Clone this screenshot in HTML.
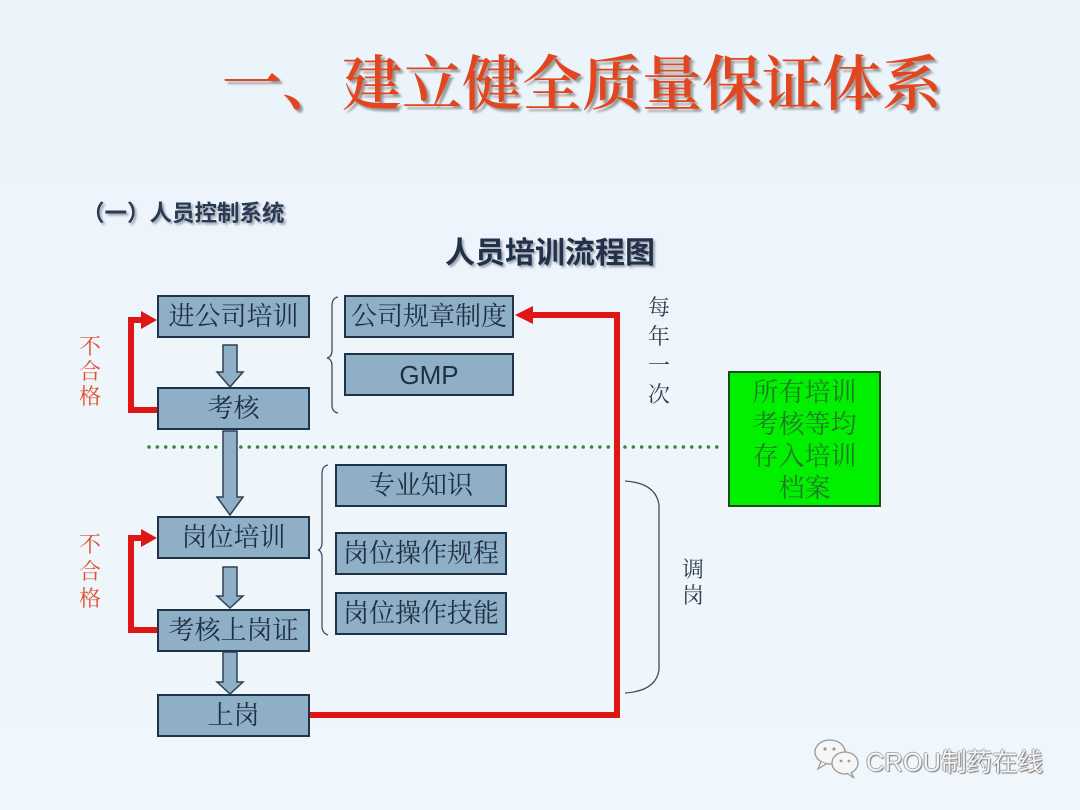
<!DOCTYPE html>
<html><head><meta charset="utf-8">
<style>
html,body{margin:0;padding:0;}
body{width:1080px;height:810px;position:relative;overflow:hidden;background:linear-gradient(180deg,#ecf4fb 0%,#eef5fb 60%,#eff6fc 100%);font-family:"Liberation Serif","Noto Serif CJK SC",serif;}
.abs{position:absolute;}
.box{position:absolute;box-sizing:border-box;background:#8fafc7;border:2px solid #1f3449;color:#1e2f44;font-size:26px;text-align:center;font-family:"Liberation Serif","Noto Serif CJK SC",serif;white-space:nowrap;}
.title{left:222px;top:45px;font-size:60px;font-weight:600;color:#e2461f;font-family:"Liberation Serif","Noto Serif CJK SC",serif;text-shadow:3px 3px 2px #9a9a9a;white-space:nowrap;line-height:80px;}
.sub{left:82px;top:199px;font-size:22.5px;font-weight:700;color:#2a3a55;font-family:"Liberation Sans","Noto Sans CJK SC",sans-serif;text-shadow:2px 2px 2px #9aa3ad;white-space:nowrap;line-height:30px;}
.flow{left:445px;top:234px;font-size:30px;font-weight:700;color:#22304a;font-family:"Liberation Sans","Noto Sans CJK SC",sans-serif;text-shadow:2px 2px 2px #9aa3ad;white-space:nowrap;line-height:40px;}
.vert{position:absolute;font-family:"Liberation Serif","Noto Serif CJK SC",serif;font-size:22px;width:24px;text-align:center;}
.red{color:#e0502e;}
.dark{color:#2e3e50;}
.green{position:absolute;left:728px;top:371px;width:153px;height:136px;box-sizing:border-box;background:#00f000;border:2px solid #1d4d1d;color:#1f7a26;font-size:26px;text-align:center;line-height:32px;padding-top:4px;font-family:"Liberation Serif","Noto Serif CJK SC",serif;}
.wm{left:866px;top:745px;font-size:25.5px;color:#f4f4f4;font-family:"Liberation Sans","Noto Sans CJK SC",sans-serif;text-shadow:1px 1px 1px #7a7a7a,-1px 0 0 #a0a0a0,0 -1px 0 #b0b0b0;white-space:nowrap;line-height:36px;}
</style></head>
<body>
<div class="abs title">一、建立健全质量保证体系</div>
<div class="abs sub">（一）人员控制系统</div>
<div class="abs flow">人员培训流程图</div>

<svg class="abs" style="left:0;top:0" width="1080" height="810" viewBox="0 0 1080 810">
  <line x1="149" y1="447" x2="718" y2="447" stroke="#2f8a2f" stroke-width="3.5" stroke-linecap="round" stroke-dasharray="0 8.35"/>
  <g fill="#8fafc7" stroke="#2a4258" stroke-width="1.5">
    <polygon points="223,345 237,345 237,372 243,372 230,387 217,372 223,372"/>
    <polygon points="223,431 237,431 237,497 243,497 230,515 217,497 223,497"/>
    <polygon points="223,567 237,567 237,596 243,596 230,608 217,596 223,596"/>
    <polygon points="223,652 237,652 237,682 243,682 230,694 217,682 223,682"/>
  </g>
  <g fill="none" stroke="#e01515" stroke-width="6">
    <polyline points="157,410 131,410 131,320 144,320"/>
    <polyline points="157,630 131,630 131,538 144,538"/>
    <polyline points="310,715 617,715 617,315 530,315"/>
  </g>
  <g fill="#e01515">
    <polygon points="157,320 141,311 141,329"/>
    <polygon points="157,538 141,529 141,547"/>
    <polygon points="515,315 533,306 533,324"/>
  </g>
  <g fill="none" stroke="#3f5163" stroke-width="1.3">
    <path d="M338,297 Q332,298 332,306 L332,350 Q332,357 327,358 Q332,359 332,366 L332,405 Q332,412 338,413"/>
    <path d="M328,465 Q322,466 322,474 L322,542 Q322,549 318,550 Q322,551 322,558 L322,626 Q322,633 328,635"/>
    <path d="M625,481 Q656,483 659,505 L659,670 Q656,691 625,693"/>
  </g>
  <g fill="#f6f6f6" stroke="#9a9a9a" stroke-width="1.3">
    <ellipse cx="830" cy="752" rx="15" ry="12"/>
    <path d="M821,762 L818,769 L826,764" />
    <ellipse cx="845" cy="763" rx="13" ry="11"/>
    <path d="M851,772 L854,778 L847,773"/>
  </g>
  <g fill="#9a9a9a">
    <circle cx="825" cy="749" r="1.6"/><circle cx="834" cy="749" r="1.6"/>
    <circle cx="841" cy="761" r="1.4"/><circle cx="849" cy="761" r="1.4"/>
  </g>
</svg>

<div class="box" style="left:157px;top:295px;width:153px;height:43px;line-height:40px;">进公司培训</div>
<div class="box" style="left:157px;top:387px;width:153px;height:43px;line-height:40px;">考核</div>
<div class="box" style="left:157px;top:516px;width:153px;height:43px;line-height:40px;">岗位培训</div>
<div class="box" style="left:157px;top:609px;width:153px;height:43px;line-height:40px;">考核上岗证</div>
<div class="box" style="left:157px;top:694px;width:153px;height:43px;line-height:40px;">上岗</div>

<div class="box" style="left:344px;top:295px;width:170px;height:43px;line-height:40px;">公司规章制度</div>
<div class="box" style="left:344px;top:353px;width:170px;height:43px;line-height:40px;font-family:'Liberation Sans',sans-serif;font-size:26px;">GMP</div>
<div class="box" style="left:335px;top:464px;width:172px;height:43px;line-height:40px;">专业知识</div>
<div class="box" style="left:335px;top:532px;width:172px;height:43px;line-height:40px;">岗位操作规程</div>
<div class="box" style="left:335px;top:592px;width:172px;height:43px;line-height:40px;">岗位操作技能</div>

<div class="vert red" style="left:78px;top:334px;line-height:25px;">不<br>合<br>格</div>
<div class="vert red" style="left:78px;top:531px;line-height:27px;">不<br>合<br>格</div>
<div class="vert dark" style="left:647px;top:293px;line-height:29px;">每<br>年<br>一<br>次</div>
<div class="vert dark" style="left:681px;top:557px;line-height:26px;">调<br>岗</div>

<div class="green">所有培训<br>考核等均<br>存入培训<br>档案</div>

<div class="abs wm">CROU制药在线</div>
</body></html>
